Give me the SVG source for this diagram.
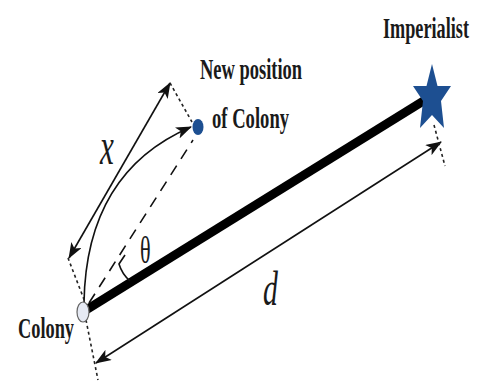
<svg xmlns="http://www.w3.org/2000/svg" width="477" height="383" viewBox="0 0 477 383">
<defs>
<marker id="ah" viewBox="0 0 16 12" refX="15" refY="6" markerWidth="16" markerHeight="12" markerUnits="userSpaceOnUse" orient="auto-start-reverse">
<path d="M0,0 L16,6 L0,12 L4,6 Z" fill="#111"/>
</marker>
<style>
text{font-family:"Liberation Serif","Times New Roman",serif;fill:#1a1a1a}
.lb{font-size:29px;font-weight:bold}
.thin{stroke:#111;stroke-width:1.6;fill:none}
.dot{stroke:#222;stroke-width:1.6;stroke-dasharray:3,3;fill:none}
.dash{stroke:#111;stroke-width:1.6;stroke-dasharray:11,8;fill:none}
</style>
</defs>
<rect width="477" height="383" fill="#fff"/>
<g id="connectors">
<line x1="86" y1="310" x2="425" y2="100" stroke="#000" stroke-width="9"/>
<line class="dash" x1="89" y1="303" x2="193" y2="140"/>
<path class="thin" d="M125,255 L119,264 Q122,274 130,281"/>
<path class="thin" d="M84,303 Q86,172 191,127" marker-end="url(#ah)"/>
<line class="thin" x1="69" y1="258" x2="170" y2="83" marker-start="url(#ah)" marker-end="url(#ah)"/>
<line class="dot" x1="170" y1="83" x2="192" y2="122"/>
<line class="dot" x1="68" y1="258" x2="85" y2="302"/>
<line class="thin" x1="96" y1="363" x2="441" y2="142" marker-start="url(#ah)" marker-end="url(#ah)"/>
<line class="dot" x1="86" y1="320" x2="98" y2="380"/>
<line class="dot" x1="434" y1="125" x2="445" y2="166"/>
</g>
<g id="colony">
<ellipse cx="83" cy="312" rx="6" ry="10" fill="#e6eaf4" stroke="#666" stroke-width="1.2"/>
<text class="lb" transform="translate(18,338) scale(0.632,1)">Colony</text>
</g>
<g id="new-position">
<ellipse cx="198" cy="127" rx="5.5" ry="8" fill="#1d4f91"/>
<text class="lb" transform="translate(200,79) scale(0.637,1)">New position</text>
<text class="lb" transform="translate(212,128) scale(0.642,1)">of Colony</text>
</g>
<g id="imperialist">
<polygon points="432,64 437.5,86 451,86 441,101 444,128 432,115 420,128 423,101 413,86 426.5,86" fill="#1d4f91"/>
<text class="lb" transform="translate(383,38) scale(0.628,1)">Imperialist</text>
</g>
<g id="labels">
<text transform="translate(100,164) scale(0.6,1)" font-size="52" font-style="italic">x</text>
<text transform="translate(140,263) scale(0.6,1)" font-size="37">θ</text>
<text transform="translate(263,305) scale(0.62,1)" font-size="48" font-style="italic">d</text>
</g>
</svg>
